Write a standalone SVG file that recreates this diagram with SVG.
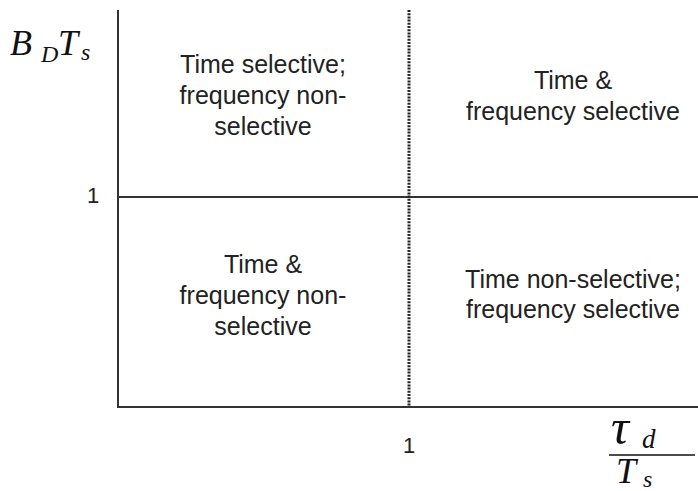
<svg xmlns="http://www.w3.org/2000/svg" width="698" height="491" viewBox="0 0 698 491">
<style>
.lbl{font-family:"Liberation Sans",Arial,sans-serif;font-size:25px;fill:#222;text-anchor:middle}
.num{font-family:"Liberation Sans",Arial,sans-serif;font-size:22px;fill:#222;text-anchor:middle}
.math{font-family:"Liberation Serif","Times New Roman",serif;font-style:italic;fill:#111}
.axis{stroke:#333;stroke-width:2;fill:none}
.div{stroke:#222;stroke-width:3;stroke-dasharray:2 1.2;fill:none}
</style>
<rect width="698" height="491" fill="#fff"/>
<g id="connectors">
<line class="axis" x1="118" y1="10" x2="118" y2="408"/>
<line class="axis" x1="117" y1="407" x2="698" y2="407"/>
<line class="axis" x1="118" y1="197" x2="698" y2="197"/>
<line class="div" x1="409" y1="10" x2="409" y2="407"/>
<line x1="609" y1="455" x2="695" y2="455" stroke="#111" stroke-width="1.6"/>
</g>
<g id="ylabel">
<text class="math" y="55" font-size="36"><tspan x="10">B</tspan><tspan x="41" y="62" font-size="24">D</tspan><tspan x="58" y="55">T</tspan><tspan x="81" y="60" font-size="24">s</tspan></text>
</g>
<g id="xlabel">
<text class="math" y="444" font-size="50"><tspan x="611">τ</tspan><tspan x="642" y="448" font-size="27">d</tspan></text>
<text class="math" y="483" font-size="36"><tspan x="616">T</tspan><tspan x="643" y="487" font-size="24">s</tspan></text>
</g>
<g id="tick-y"><text class="num" x="93" y="203">1</text></g>
<g id="tick-x"><text class="num" x="409" y="453">1</text></g>
<g id="q-top-left">
<text class="lbl" x="263" y="73">Time selective;</text>
<text class="lbl" x="263" y="104">frequency non-</text>
<text class="lbl" x="263" y="135">selective</text>
</g>
<g id="q-top-right">
<text class="lbl" x="573" y="89">Time &amp;</text>
<text class="lbl" x="573" y="120">frequency selective</text>
</g>
<g id="q-bottom-left">
<text class="lbl" x="263" y="273">Time &amp;</text>
<text class="lbl" x="263" y="304">frequency non-</text>
<text class="lbl" x="263" y="335">selective</text>
</g>
<g id="q-bottom-right">
<text class="lbl" x="573" y="288">Time non-selective;</text>
<text class="lbl" x="573" y="318">frequency selective</text>
</g>
</svg>
